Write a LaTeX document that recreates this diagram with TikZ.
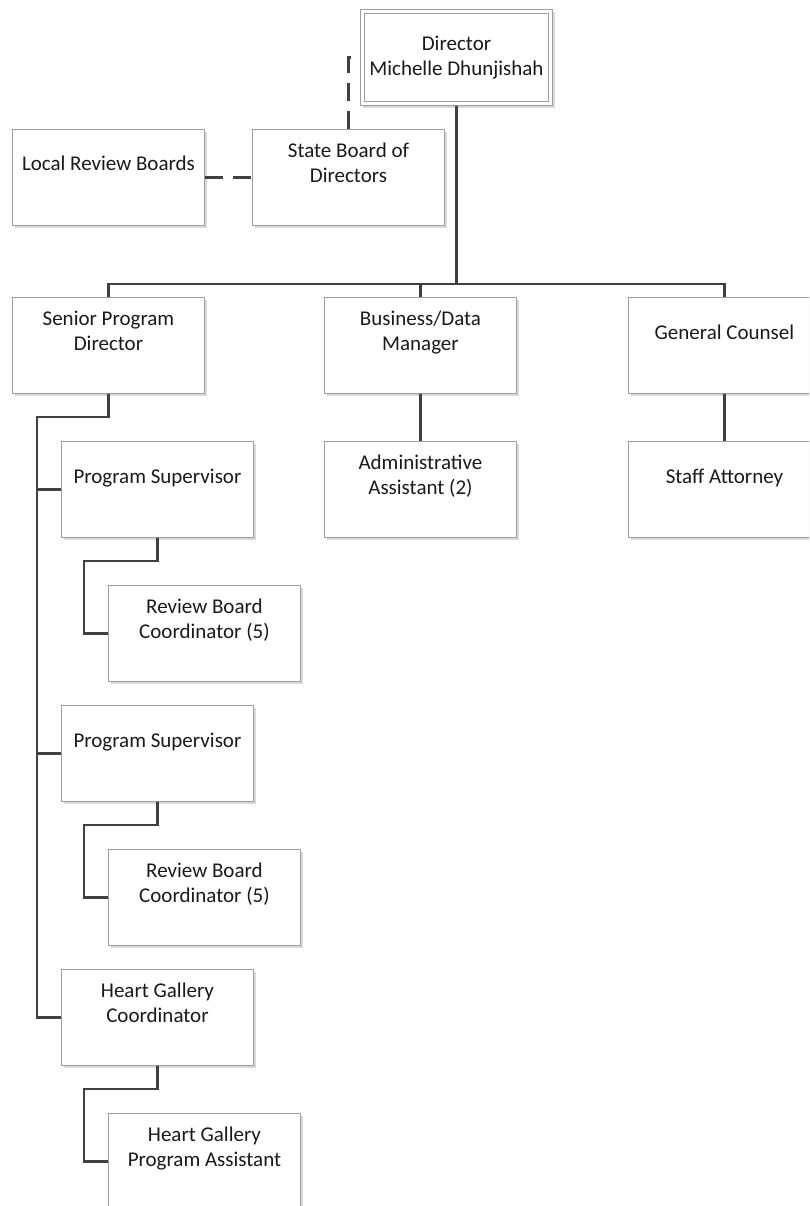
\documentclass[tikz,border=0pt]{standalone}
\usepackage{fontspec}
\setmainfont{Carlito}
\usetikzlibrary{shadows}

\definecolor{edge}{HTML}{9E9E9E}
\definecolor{wire}{HTML}{404040}
\definecolor{ink}{HTML}{1A1A1A}
\definecolor{shade}{HTML}{D9D9D9}

% fixed line height/depth so every label sits at the same place in its box
\newcommand\lblstrut{\rule[-6pt]{0pt}{23pt}}

\tikzset{
  orgbox/.style={draw=edge, line width=0.9pt, fill=white,
    minimum width=192pt, minimum height=96pt, inner sep=0pt, anchor=north west,
    drop shadow={shadow xshift=2.5pt, shadow yshift=-2.5pt, fill=shade, opacity=1}},
  lbl/.style={text=ink, font=\fontsize{21}{25}\selectfont, align=center,
    inner sep=0pt, execute at begin node=\lblstrut, execute at end node=\lblstrut},
  conn/.style={draw=wire, line width=2.4pt, line join=miter},
  dashconn/.style={conn, dash pattern=on 18pt off 10pt},
}

% box with its caption in the upper part: name, left, top, text
\newcommand\orgunit[4]{%
  \node[orgbox] (#1) at (#2,#3) {};
  \node[lbl] (#1-t) at ([yshift=-36.5pt]#1.north) {#4};}

\begin{document}
\begin{tikzpicture}[x=1pt, y=-1pt]
\useasboundingbox (0,0) rectangle (809,1206);
\clip (0,0) rectangle (809,1206);
\fill[white] (0,0) rectangle (809,1206);

% director, double outline
\node[orgbox] (dir) at (360,9) {};
\draw[draw=edge, line width=0.9pt]
  ([xshift=4pt,yshift=-4pt]dir.north west) rectangle ([xshift=-4pt,yshift=4pt]dir.south east);
\node[lbl] (dir-t) at ([yshift=-1pt]dir.center) {Director\\Michelle Dhunjishah};

% boards
\orgunit{lrb}{12}{129}{Local Review Boards}
\orgunit{sb}{252}{129}{State Board of\\Directors}

% second level
\orgunit{spd}{12}{297}{Senior Program\\Director}
\orgunit{bdm}{324}{297}{Business/Data\\Manager}
\orgunit{gc}{628}{297}{General Counsel}

\orgunit{aa}{324}{441}{Administrative\\Assistant (2)}
\orgunit{sa}{628}{441}{Staff Attorney}

% program branch
\orgunit{ps1}{61}{441}{Program Supervisor}
\orgunit{rbc1}{108}{585}{Review Board\\Coordinator (5)}
\orgunit{ps2}{61}{705}{Program Supervisor}
\orgunit{rbc2}{108}{849}{Review Board\\Coordinator (5)}
\orgunit{hgc}{61}{969}{Heart Gallery\\Coordinator}
\orgunit{hgpa}{108}{1113}{Heart Gallery\\Program Assistant}

% reporting lines
\coordinate (bus) at (0,284);
\draw[conn] (dir.south) -- (dir.south |- bus);
\draw[conn] (spd.north) -- (spd.north |- bus) -- (gc.north |- bus) -- (gc.north);
\draw[conn] (bdm.north |- bus) -- (bdm.north);
\draw[conn] (bdm.south) -- (aa.north);
\draw[conn] (gc.south) -- (sa.north);

\coordinate (spine) at (37,417);
\draw[conn] (spd.south) |- (spine) |- (hgc.west);
\draw[conn] (spine |- ps1.west) -- (ps1.west);
\draw[conn] (spine |- ps2.west) -- (ps2.west);

\coordinate (k1) at (84,561);
\coordinate (k2) at (84,825);
\coordinate (k3) at (84,1089);
\draw[conn] (ps1.south) |- (k1) |- (rbc1.west);
\draw[conn] (ps2.south) |- (k2) |- (rbc2.west);
\draw[conn] (hgc.south) |- (k3) |- (hgpa.west);

% advisory links
\draw[dashconn] (sb.north) |- (dir.west);
\draw[dashconn] (lrb.east) -- (sb.west);
\end{tikzpicture}
\end{document}
